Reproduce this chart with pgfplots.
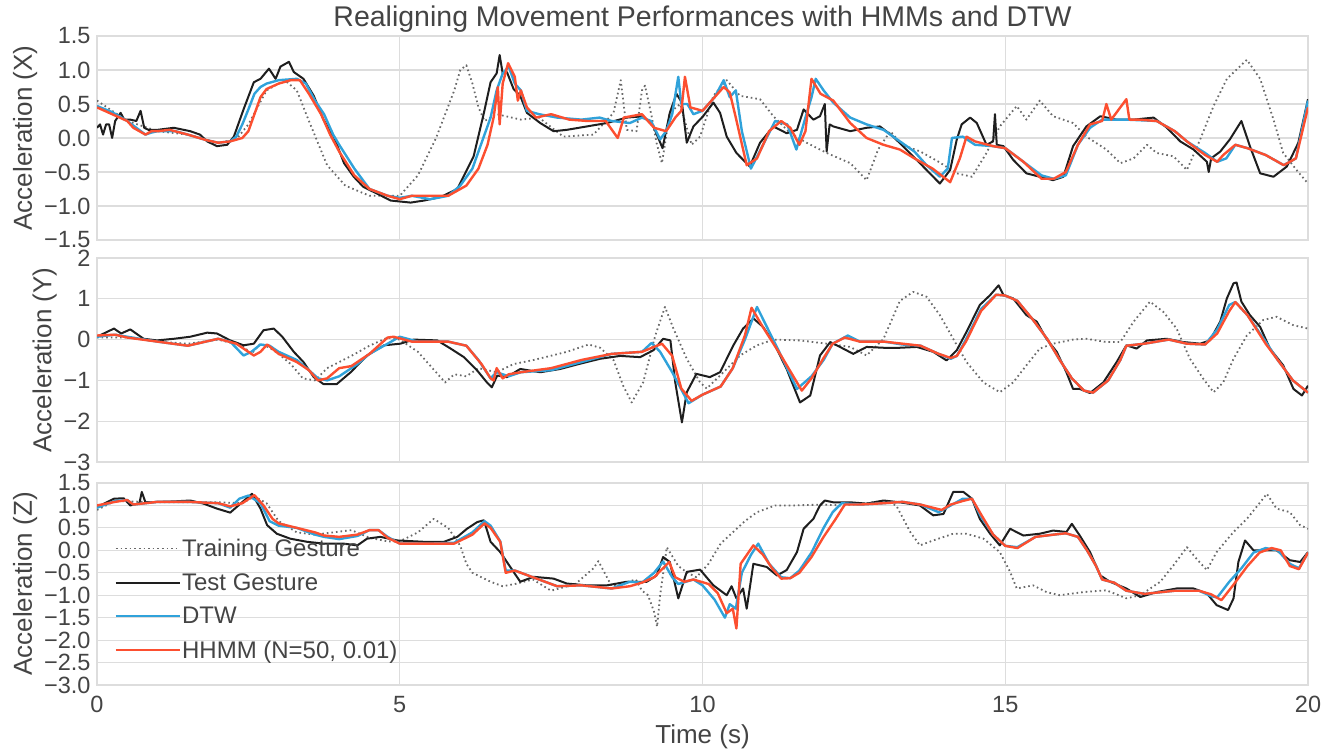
\documentclass[border=0pt]{standalone}
\usepackage{fontspec}
\setmainfont{Liberation Sans}
\usepackage{pgfplots}
\pgfplotsset{compat=1.18}

\definecolor{gridc}{RGB}{221,221,221}
\definecolor{txt}{RGB}{68,68,68}
\definecolor{dtw}{HTML}{30A2DA}
\definecolor{hhmm}{HTML}{FC4F30}
\definecolor{testc}{RGB}{30,30,30}
\definecolor{trainc}{RGB}{105,105,105}

\pgfplotsset{
  panel/.style={
    scale only axis, width=1211pt,
    xmin=0, xmax=20, xtick={0,5,10,15,20},
    grid=major, major grid style={gridc, line width=1.2pt},
    axis line style={gridc, line width=1.2pt},
    major tick length=0pt,
    tick label style={font=\fontsize{23.5}{25}\selectfont, text=txt},
    yticklabel style={xshift=-3pt},
    xticklabel style={yshift=-8pt},
    label style={font=\fontsize{26}{28}\selectfont, text=txt},
    every axis plot/.append style={line join=round},
  },
  trainst/.style={trainc, line width=1.8pt, dash pattern=on 1.6pt off 3pt},
  testst/.style={testc, line width=2pt},
  dtwst/.style={dtw, line width=2.4pt},
  hmmst/.style={hhmm, line width=2.4pt},
}

\begin{document}
\begin{tikzpicture}
\path[use as bounding box] (0,0) rectangle (1338pt,749pt);

% --- X ---
\begin{axis}[panel, at={(97pt,509pt)}, anchor=south west, height=204pt,
  ymin=-1.5, ymax=1.5, ytick={-1.5,-1,-0.5,0,0.5,1,1.5},
  yticklabels={−1.5,−1.0,−0.5,0.0,0.5,1.0,1.5},
  xticklabels={},
  ylabel={Acceleration (X)},
  title={Realigning Movement Performances with HMMs and DTW},
  title style={font=\fontsize{28.5}{30}\selectfont, text=txt, yshift=-6pt},
]
\addplot[trainst] coordinates {(0,0.55) (0.25,0.4) (0.5,0.25) (1,0.1) (1.5,0.05) (2,-0.07) (2.3,-0.02) (2.5,0.2) (2.8,0.7) (3.1,0.85) (3.3,0.7) (3.5,0.25) (3.8,-0.4) (4.1,-0.7) (4.5,-0.85) (5.0,-0.85) (5.3,-0.55) (5.6,0.0) (5.9,0.7) (6.0,1.0) (6.1,1.07) (6.2,0.8) (6.3,0.45) (6.4,0.25) (6.6,0.35) (7.0,0.27) (7.3,0.3) (7.7,0.02) (8.2,0.05) (8.53,0.37) (8.65,0.85) (8.69,0.55) (8.75,0.12) (8.91,0.1) (9.0,0.7) (9.05,0.77) (9.16,0.32) (9.24,-0.07) (9.33,-0.37) (9.46,0.37) (9.63,0.5) (9.82,-0.1) (9.96,0.02) (10.18,0.62) (10.4,0.85) (10.62,0.62) (10.95,0.57) (11.17,0.32) (11.45,0.07) (11.72,-0.07) (12.05,-0.22) (12.44,-0.37) (12.71,-0.62) (12.9,-0.17) (13.1,0.1) (13.3,-0.1) (13.6,-0.2) (13.9,-0.35) (14.2,-0.52) (14.45,-0.57) (14.69,-0.22) (14.91,0.17) (15.19,0.47) (15.35,0.27) (15.57,0.55) (15.79,0.32) (16.12,0.22) (16.34,0.02) (16.67,-0.17) (16.9,-0.37) (17.12,-0.3) (17.34,-0.1) (17.5,-0.22) (17.78,-0.27) (18.0,-0.47) (18.22,-0.02) (18.44,0.47) (18.66,0.87) (18.99,1.15) (19.21,0.87) (19.43,0.27) (19.59,-0.22) (19.81,-0.47) (20,-0.67)};
\addplot[testst] coordinates {(0,0.15) (0.05,0.2) (0.1,0.05) (0.15,0.2) (0.2,0.2) (0.25,0.0) (0.3,0.25) (0.39,0.37) (0.45,0.27) (0.55,0.27) (0.65,0.25) (0.72,0.4) (0.78,0.15) (0.85,0.12) (1.0,0.12) (1.27,0.15) (1.54,0.1) (1.7,0.05) (1.82,-0.05) (1.98,-0.12) (2.15,-0.1) (2.26,0.02) (2.42,0.42) (2.59,0.82) (2.7,0.87) (2.84,1.02) (2.95,0.87) (3.03,1.05) (3.17,1.12) (3.25,0.97) (3.41,0.87) (3.58,0.62) (3.74,0.27) (3.91,0.02) (4.08,-0.37) (4.24,-0.57) (4.4,-0.72) (4.63,-0.82) (4.85,-0.92) (5.18,-0.95) (5.4,-0.92) (5.67,-0.87) (5.95,-0.75) (6.22,-0.27) (6.39,0.37) (6.5,0.82) (6.6,0.95) (6.65,1.22) (6.7,0.95) (6.77,0.97) (6.88,0.72) (6.99,0.62) (7.1,0.37) (7.32,0.22) (7.54,0.1) (7.76,0.12) (8.09,0.17) (8.42,0.22) (8.75,0.3) (9.02,0.32) (9.19,0.17) (9.34,-0.15) (9.46,0.37) (9.57,0.65) (9.66,0.52) (9.74,-0.07) (9.85,0.17) (10.01,0.32) (10.18,0.52) (10.29,0.37) (10.4,0.02) (10.56,-0.22) (10.78,-0.42) (10.95,-0.07) (11.17,0.17) (11.39,0.07) (11.56,0.12) (11.67,0.42) (11.83,0.27) (11.94,0.32) (12.02,0.5) (12.05,-0.2) (12.1,0.2) (12.16,0.17) (12.44,0.1) (12.71,0.15) (12.93,0.17) (13.15,0.02) (13.4,-0.2) (13.59,-0.37) (13.92,-0.67) (14.09,-0.47) (14.2,-0.02) (14.28,0.2) (14.42,0.3) (14.53,0.22) (14.69,-0.1) (14.8,-0.05) (14.83,0.35) (14.86,-0.1) (14.97,-0.12) (15.13,-0.32) (15.35,-0.52) (15.57,-0.57) (15.79,-0.62) (15.96,-0.57) (16.12,-0.12) (16.34,0.17) (16.57,0.32) (16.84,0.27) (17.12,0.27) (17.45,0.3) (17.67,0.15) (17.89,-0.05) (18.11,-0.17) (18.33,-0.35) (18.36,-0.5) (18.4,-0.3) (18.55,-0.2) (18.71,-0.02) (18.9,0.25) (19.04,-0.12) (19.21,-0.52) (19.43,-0.57) (19.65,-0.42) (19.84,-0.07) (20,0.57)};
\addplot[dtwst] coordinates {(0,0.47) (0.25,0.38) (0.5,0.25) (0.65,0.15) (0.8,0.05) (0.9,0.08) (1.0,0.1) (1.3,0.1) (1.5,0.05) (1.8,-0.03) (2.0,-0.07) (2.2,-0.05) (2.3,0.02) (2.4,0.2) (2.5,0.42) (2.6,0.65) (2.7,0.75) (2.8,0.8) (3.0,0.85) (3.3,0.87) (3.45,0.8) (3.6,0.55) (3.75,0.35) (3.9,0.05) (4.0,-0.1) (4.25,-0.45) (4.5,-0.75) (4.8,-0.85) (5.0,-0.88) (5.2,-0.85) (5.5,-0.9) (5.8,-0.85) (6.0,-0.7) (6.2,-0.45) (6.4,0.05) (6.5,0.3) (6.6,0.7) (6.7,0.95) (6.8,1.05) (6.9,0.8) (7.0,0.7) (7.1,0.4) (7.3,0.35) (7.6,0.3) (8.0,0.27) (8.3,0.3) (8.5,0.25) (8.8,0.22) (9.0,0.3) (9.15,0.25) (9.3,-0.02) (9.4,0.1) (9.5,0.35) (9.6,0.9) (9.65,0.5) (9.75,0.5) (9.85,0.35) (10.0,0.4) (10.2,0.6) (10.35,0.85) (10.45,0.6) (10.55,0.7) (10.65,0.1) (10.8,-0.45) (11.0,-0.1) (11.2,0.25) (11.4,0.2) (11.55,-0.17) (11.7,0.3) (11.8,0.6) (11.87,0.87) (12.0,0.7) (12.16,0.52) (12.44,0.3) (12.71,0.2) (12.99,0.12) (13.26,-0.05) (13.5,-0.2) (13.7,-0.4) (13.92,-0.57) (14.05,-0.45) (14.12,0.0) (14.3,0.02) (14.5,-0.1) (14.8,-0.12) (15.0,-0.15) (15.3,-0.35) (15.6,-0.55) (15.8,-0.6) (16.0,-0.55) (16.2,-0.1) (16.4,0.15) (16.6,0.27) (17.0,0.27) (17.5,0.25) (17.8,0.1) (18.0,-0.05) (18.3,-0.22) (18.5,-0.35) (18.65,-0.3) (18.8,-0.1) (19.0,-0.15) (19.3,-0.25) (19.6,-0.4) (19.8,-0.3) (20,0.55)};
\addplot[hmmst] coordinates {(0,0.45) (0.25,0.35) (0.5,0.25) (0.6,0.15) (0.8,0.05) (0.9,0.1) (1.0,0.1) (1.2,0.12) (1.5,0.05) (1.8,-0.03) (2.0,-0.07) (2.2,-0.05) (2.4,0.0) (2.5,0.1) (2.6,0.35) (2.7,0.6) (2.8,0.72) (3.0,0.8) (3.2,0.85) (3.35,0.85) (3.5,0.65) (3.7,0.35) (3.85,0.05) (4.0,-0.2) (4.25,-0.55) (4.5,-0.75) (4.8,-0.85) (5.0,-0.9) (5.2,-0.85) (5.8,-0.85) (6.1,-0.7) (6.3,-0.45) (6.45,-0.1) (6.55,0.3) (6.62,0.75) (6.65,0.2) (6.7,0.8) (6.79,1.1) (6.9,0.9) (6.95,0.55) (7.0,0.7) (7.1,0.45) (7.25,0.3) (7.5,0.35) (7.8,0.27) (8.1,0.25) (8.4,0.25) (8.6,0.0) (8.7,0.3) (9.0,0.35) (9.2,0.15) (9.4,0.1) (9.55,0.3) (9.65,0.4) (9.71,0.9) (9.8,0.45) (10.0,0.4) (10.2,0.6) (10.35,0.75) (10.45,0.67) (10.55,0.3) (10.73,-0.4) (10.9,-0.3) (11.1,0.1) (11.3,0.25) (11.45,0.15) (11.6,-0.1) (11.7,0.1) (11.8,0.87) (11.95,0.65) (12.16,0.55) (12.44,0.22) (12.71,0.0) (12.99,-0.1) (13.26,-0.17) (13.5,-0.3) (13.8,-0.45) (14.09,-0.65) (14.25,-0.3) (14.36,0.02) (14.5,-0.05) (14.8,-0.12) (15.0,-0.15) (15.3,-0.35) (15.6,-0.6) (15.8,-0.6) (16.0,-0.5) (16.2,-0.1) (16.4,0.2) (16.6,0.25) (16.67,0.5) (16.75,0.27) (17.0,0.57) (17.05,0.27) (17.2,0.27) (17.5,0.25) (17.8,0.1) (18.0,-0.05) (18.3,-0.25) (18.5,-0.35) (18.6,-0.25) (18.8,-0.1) (19.0,-0.15) (19.3,-0.25) (19.6,-0.4) (19.8,-0.3) (20,0.45)};
\end{axis}

% --- Y ---
\begin{axis}[panel, at={(97pt,287pt)}, anchor=south west, height=204pt,
  ymin=-3, ymax=2, ytick={-3,-2,-1,0,1,2},
  yticklabels={−3,−2,−1,0,1,2},
  xticklabels={},
  ylabel={Acceleration (Y)},
]
\addplot[trainst] coordinates {(0,0.05) (0.5,0.05) (1,-0.05) (1.5,-0.1) (2,0.0) (2.4,-0.15) (2.55,-0.35) (2.7,-0.1) (2.85,-0.2) (3.0,-0.35) (3.2,-0.6) (3.4,-0.95) (3.6,-1.0) (3.8,-0.7) (4.2,-0.4) (4.5,-0.15) (4.8,0.05) (5.0,0.0) (5.3,-0.3) (5.6,-0.8) (5.75,-1.05) (5.9,-0.85) (6.1,-0.9) (6.3,-0.7) (6.6,-0.8) (6.88,-0.6) (7.21,-0.5) (7.76,-0.3) (8.12,-0.12) (8.31,-0.2) (8.53,-0.5) (8.69,-1.13) (8.83,-1.54) (9.02,-1.05) (9.22,0.1) (9.38,0.8) (9.52,0.27) (9.74,-0.47) (9.96,-1.05) (10.07,-1.2) (10.29,-0.88) (10.62,-0.39) (10.9,-0.14) (11.17,0.0) (11.61,-0.02) (12.05,-0.1) (12.44,-0.18) (12.71,-0.39) (12.99,0.02) (13.26,0.95) (13.48,1.17) (13.7,1.05) (13.92,0.6) (14.14,0.02) (14.36,-0.55) (14.64,-1.05) (14.91,-1.29) (15.13,-1.05) (15.35,-0.63) (15.57,-0.22) (15.79,-0.1) (16.12,0.0) (16.34,0.02) (16.67,-0.06) (16.9,-0.06) (17.12,0.44) (17.39,0.93) (17.61,0.68) (17.83,0.27) (18.05,-0.47) (18.27,-0.96) (18.44,-1.29) (18.6,-1.05) (18.77,-0.47) (18.99,0.1) (19.26,0.48) (19.48,0.56) (19.76,0.35) (20,0.27)};
\addplot[testst] coordinates {(0,0.07) (0.28,0.27) (0.4,0.15) (0.55,0.25) (0.77,0.02) (0.99,-0.02) (1.27,0.02) (1.54,0.07) (1.82,0.17) (1.98,0.15) (2.2,-0.02) (2.42,-0.14) (2.59,-0.1) (2.75,0.23) (2.92,0.27) (3.06,0.07) (3.25,-0.3) (3.41,-0.55) (3.58,-0.92) (3.74,-1.09) (3.96,-1.09) (4.19,-0.8) (4.46,-0.39) (4.74,-0.14) (5.01,-0.1) (5.23,0.0) (5.62,-0.02) (5.84,-0.22) (6.06,-0.43) (6.28,-0.76) (6.44,-1.05) (6.52,-1.17) (6.61,-0.88) (6.77,-0.92) (6.99,-0.72) (7.32,-0.8) (7.65,-0.72) (7.98,-0.59) (8.31,-0.47) (8.64,-0.4) (8.97,-0.43) (9.19,-0.26) (9.35,0.02) (9.47,-0.02) (9.55,-1.05) (9.66,-2.03) (9.74,-1.29) (9.9,-0.84) (10.12,-0.92) (10.29,-0.8) (10.4,-0.47) (10.51,-0.14) (10.67,0.27) (10.84,0.52) (11.0,0.31) (11.17,-0.06) (11.39,-0.72) (11.61,-1.54) (11.78,-1.37) (11.94,-0.39) (12.11,-0.06) (12.27,-0.18) (12.49,-0.35) (12.71,-0.18) (12.99,-0.2) (13.26,-0.2) (13.54,-0.18) (13.81,-0.3) (14.03,-0.51) (14.2,-0.26) (14.36,0.19) (14.58,0.85) (14.75,1.09) (14.89,1.33) (14.97,1.09) (15.13,1.01) (15.35,0.6) (15.52,0.44) (15.68,0.02) (15.85,-0.3) (16.01,-0.8) (16.12,-1.21) (16.23,-1.21) (16.4,-1.31) (16.62,-1.05) (16.84,-0.55) (17.0,-0.14) (17.17,-0.22) (17.34,-0.02) (17.67,0.02) (17.94,-0.06) (18.22,-0.1) (18.38,-0.02) (18.55,0.44) (18.66,1.01) (18.77,1.38) (18.82,1.4) (18.9,0.93) (19.04,0.6) (19.21,0.31) (19.37,-0.22) (19.59,-0.63) (19.76,-1.21) (19.9,-1.37) (20,-1.13)};
\addplot[dtwst] coordinates {(0,0.07) (0.3,0.12) (0.5,0.07) (1.0,-0.05) (1.5,-0.15) (2.0,0.02) (2.2,-0.05) (2.42,-0.39) (2.55,-0.3) (2.7,-0.12) (2.85,-0.15) (3.0,-0.3) (3.3,-0.5) (3.5,-0.75) (3.65,-0.95) (3.8,-1.0) (4.0,-0.9) (4.3,-0.6) (4.5,-0.35) (4.8,-0.1) (5.0,0.07) (5.3,-0.05) (5.8,-0.05) (6.1,-0.15) (6.3,-0.5) (6.5,-0.95) (6.6,-0.8) (6.8,-0.9) (7.0,-0.8) (7.5,-0.75) (8.0,-0.55) (8.5,-0.35) (9.0,-0.3) (9.16,-0.08) (9.3,-0.3) (9.5,-0.8) (9.77,-1.56) (10.0,-1.35) (10.3,-1.15) (10.5,-0.7) (10.7,0.0) (10.9,0.8) (11.1,0.2) (11.3,-0.4) (11.56,-1.21) (11.8,-0.9) (12.0,-0.5) (12.15,-0.1) (12.4,0.1) (12.6,-0.05) (13.0,-0.05) (13.3,-0.12) (13.6,-0.15) (13.9,-0.35) (14.1,-0.47) (14.2,-0.4) (14.35,0.0) (14.6,0.75) (14.85,1.1) (15.0,1.08) (15.2,0.95) (15.45,0.5) (15.7,0.0) (15.9,-0.5) (16.1,-0.95) (16.3,-1.25) (16.45,-1.3) (16.7,-1.0) (16.9,-0.5) (17.0,-0.15) (17.3,-0.1) (17.7,0.0) (18.0,-0.1) (18.3,-0.12) (18.5,0.25) (18.7,0.85) (18.8,0.92) (19.0,0.6) (19.3,-0.05) (19.5,-0.5) (19.75,-1.0) (20,-1.3)};
\addplot[hmmst] coordinates {(0,0.1) (0.3,0.12) (0.5,0.05) (1.0,-0.05) (1.5,-0.15) (2.0,0.02) (2.3,-0.1) (2.59,-0.39) (2.7,-0.3) (2.81,-0.12) (3.0,-0.35) (3.3,-0.55) (3.5,-0.75) (3.65,-1.0) (3.8,-0.95) (4.0,-0.7) (4.2,-0.65) (4.5,-0.35) (4.8,0.05) (4.9,0.07) (5.2,-0.05) (5.8,-0.05) (6.1,-0.15) (6.35,-0.6) (6.5,-0.95) (6.55,-1.0) (6.6,-0.7) (6.7,-0.95) (6.8,-0.85) (7.0,-0.8) (7.5,-0.7) (8.0,-0.5) (8.5,-0.35) (9.0,-0.3) (9.33,-0.1) (9.5,-0.4) (9.65,-1.2) (9.82,-1.5) (10.0,-1.35) (10.3,-1.15) (10.5,-0.7) (10.7,0.1) (10.81,0.78) (11.0,0.3) (11.3,-0.4) (11.64,-1.25) (11.8,-0.95) (12.0,-0.45) (12.15,-0.1) (12.35,0.05) (12.6,-0.05) (13.0,-0.05) (13.3,-0.1) (13.6,-0.15) (13.9,-0.35) (14.1,-0.45) (14.2,-0.4) (14.35,-0.05) (14.6,0.7) (14.85,1.1) (15.0,1.08) (15.2,0.95) (15.45,0.5) (15.7,0.0) (15.9,-0.5) (16.1,-0.95) (16.3,-1.25) (16.45,-1.3) (16.7,-1.0) (16.9,-0.5) (17.0,-0.15) (17.3,-0.1) (17.7,0.0) (18.0,-0.1) (18.3,-0.12) (18.5,0.15) (18.7,0.7) (18.8,0.92) (19.0,0.6) (19.3,-0.1) (19.5,-0.5) (19.75,-1.0) (20,-1.3)};
\end{axis}

% --- Z ---
\begin{axis}[panel, at={(97pt,64pt)}, anchor=south west, height=202pt,
  ymin=-3, ymax=1.5, ytick={-3,-2.5,-2,-1.5,-1,-0.5,0,0.5,1,1.5},
  yticklabels={−3.0,−2.5,−2.0,−1.5,−1.0,−0.5,0.0,0.5,1.0,1.5},
  xticklabels={0,5,10,15,20},
  ylabel={Acceleration (Z)}, xlabel={Time (s)},
  xlabel style={yshift=-5pt},
  legend style={draw=none, fill=none, at={(rel axis cs:0.012,0.738)}, anchor=north west,
    font=\fontsize{24}{26}\selectfont, text=txt, row sep=13.5pt,
    nodes={inner sep=1pt}},
  legend cell align=left,
  legend image code/.code={\draw[#1] (0pt,0pt) -- (50pt,0pt); \path (0pt,0pt) -- (64pt,0pt);},
]
\addplot[trainst] coordinates {(0,0.9) (0.3,1.1) (1,1.07) (2,1.07) (2.4,1.05) (2.6,1.2) (2.8,1.05) (3.0,0.65) (3.3,0.4) (3.6,0.35) (3.9,0.4) (4.2,0.45) (4.5,0.28) (4.8,0.2) (5.0,0.2) (5.3,0.4) (5.56,0.7) (5.8,0.5) (6.0,0.1) (6.1,-0.3) (6.2,-0.5) (6.5,-0.7) (6.7,-0.8) (6.9,-0.75) (7.2,-0.65) (7.5,-0.9) (7.9,-0.75) (8.2,-0.4) (8.28,-0.24) (8.5,-0.8) (8.9,-0.65) (9.0,-0.9) (9.1,-1.0) (9.2,-1.37) (9.25,-1.7) (9.3,-1.0) (9.41,0.07) (9.6,-0.35) (9.75,-0.5) (9.9,-0.6) (10.1,-0.3) (10.3,0.15) (10.5,0.4) (10.7,0.65) (10.9,0.85) (11.2,1.0) (11.5,1.0) (12.0,1.02) (12.3,1.0) (12.7,1.05) (13.0,1.1) (13.2,1.0) (13.43,0.41) (13.59,0.11) (13.81,0.22) (14.14,0.37) (14.36,0.37) (14.64,0.26) (14.91,-0.04) (15.08,-0.48) (15.19,-0.85) (15.46,-0.78) (15.68,-0.93) (15.9,-1.0) (16.29,-0.93) (16.67,-0.89) (17.0,-1.07) (17.23,-1.0) (17.56,-0.7) (17.78,-0.33) (18.0,0.07) (18.16,-0.19) (18.33,-0.44) (18.49,-0.04) (18.77,0.41) (18.99,0.7) (19.21,1.07) (19.32,1.26) (19.48,0.93) (19.7,0.85) (19.87,0.56) (20,0.48)};
\addlegendentry{Training Gesture}
\addplot[testst] coordinates {(0,0.96) (0.28,1.15) (0.44,1.16) (0.55,1.0) (0.7,1.05) (0.74,1.3) (0.8,1.07) (1.27,1.09) (1.54,1.11) (1.76,1.04) (1.98,0.93) (2.2,0.84) (2.37,1.04) (2.56,1.26) (2.7,0.93) (2.81,0.56) (2.97,0.37) (3.19,0.26) (3.47,0.19) (3.74,0.15) (4.07,0.15) (4.3,0.11) (4.46,0.26) (4.68,0.3) (4.96,0.22) (5.4,0.19) (5.73,0.19) (5.95,0.3) (6.11,0.48) (6.28,0.63) (6.39,0.67) (6.5,0.19) (6.66,-0.04) (6.77,-0.26) (6.99,-0.7) (7.21,-0.59) (7.54,-0.63) (7.76,-0.74) (8.09,-0.78) (8.42,-0.78) (8.75,-0.7) (9.08,-0.7) (9.24,-0.56) (9.35,-0.15) (9.46,-0.26) (9.6,-1.07) (9.74,-0.48) (9.96,-0.43) (10.18,-0.78) (10.4,-1.0) (10.48,-0.8) (10.56,-1.07) (10.67,-0.85) (10.73,-1.3) (10.84,-0.3) (11.06,-0.37) (11.23,-0.56) (11.39,-0.44) (11.56,-0.04) (11.67,0.48) (11.83,0.7) (11.94,1.0) (12.02,1.11) (12.16,1.07) (12.44,1.07) (12.71,1.04) (12.99,1.11) (13.26,1.07) (13.59,1.0) (13.81,0.78) (13.98,0.81) (14.14,1.3) (14.31,1.3) (14.45,1.15) (14.58,0.7) (14.75,0.37) (14.91,0.11) (15.08,0.48) (15.3,0.33) (15.57,0.37) (15.79,0.44) (16.01,0.41) (16.1,0.59) (16.23,0.33) (16.4,-0.04) (16.57,-0.56) (16.73,-0.7) (17.0,-0.85) (17.23,-1.04) (17.5,-0.93) (17.83,-0.85) (18.11,-0.85) (18.33,-0.96) (18.49,-1.22) (18.68,-1.33) (18.77,-1.07) (18.85,-0.26) (18.96,0.22) (19.1,0.0) (19.26,0.0) (19.48,0.0) (19.7,-0.22) (19.87,-0.26) (20,-0.04)};
\addlegendentry{Test Gesture}
\addplot[dtwst] coordinates {(0,0.95) (0.3,1.1) (0.5,1.12) (0.6,1.02) (0.8,1.05) (1.0,1.08) (1.5,1.08) (2.0,1.05) (2.2,0.95) (2.35,1.15) (2.5,1.22) (2.7,1.05) (2.85,0.65) (3.0,0.55) (3.3,0.5) (3.6,0.35) (3.75,0.3) (4.0,0.25) (4.3,0.32) (4.5,0.45) (4.65,0.45) (4.8,0.3) (5.0,0.15) (5.5,0.15) (5.9,0.17) (6.2,0.4) (6.4,0.65) (6.5,0.55) (6.66,0.2) (6.75,-0.45) (6.9,-0.45) (7.0,-0.5) (7.3,-0.65) (7.6,-0.8) (8.0,-0.78) (8.5,-0.85) (8.8,-0.7) (9.0,-0.72) (9.2,-0.5) (9.35,-0.25) (9.5,-0.6) (9.6,-0.75) (9.85,-0.65) (10.0,-0.78) (10.2,-1.1) (10.37,-1.5) (10.45,-1.2) (10.55,-1.3) (10.65,-0.5) (10.8,-0.1) (10.92,0.15) (11.1,-0.3) (11.3,-0.6) (11.45,-0.62) (11.6,-0.45) (11.8,-0.05) (12.0,0.5) (12.15,0.85) (12.3,1.05) (12.6,1.02) (13.0,1.05) (13.3,1.08) (13.6,1.02) (13.9,0.85) (14.1,1.0) (14.3,1.15) (14.45,1.15) (14.6,0.75) (14.8,0.35) (15.0,0.1) (15.2,0.07) (15.5,0.3) (15.8,0.35) (16.0,0.38) (16.2,0.3) (16.35,0.0) (16.5,-0.35) (16.6,-0.65) (16.8,-0.72) (17.0,-0.9) (17.3,-0.97) (17.8,-0.9) (18.2,-0.9) (18.4,-1.02) (18.5,-1.05) (18.7,-0.7) (18.9,-0.4) (19.1,-0.05) (19.3,0.05) (19.5,0.0) (19.7,-0.3) (19.85,-0.4) (20,-0.05)};
\addlegendentry{DTW}
\addplot[hmmst] coordinates {(0,1.0) (0.3,1.08) (0.5,1.12) (0.6,1.02) (0.8,1.05) (1.0,1.08) (1.5,1.08) (2.0,1.05) (2.2,0.98) (2.4,1.05) (2.6,1.23) (2.75,1.0) (2.9,0.7) (3.0,0.6) (3.3,0.5) (3.6,0.4) (3.75,0.33) (4.0,0.3) (4.3,0.35) (4.5,0.45) (4.65,0.45) (4.8,0.28) (5.0,0.15) (5.5,0.15) (5.9,0.15) (6.2,0.35) (6.4,0.6) (6.5,0.5) (6.66,0.19) (6.75,-0.5) (6.9,-0.45) (7.0,-0.5) (7.3,-0.65) (7.6,-0.8) (8.0,-0.78) (8.5,-0.85) (8.8,-0.8) (9.0,-0.72) (9.2,-0.6) (9.45,-0.26) (9.55,-0.6) (9.7,-0.7) (9.85,-0.65) (10.1,-0.75) (10.25,-0.95) (10.4,-1.4) (10.5,-1.3) (10.56,-1.74) (10.63,-0.3) (10.84,0.11) (11.0,-0.1) (11.15,-0.4) (11.3,-0.63) (11.45,-0.62) (11.6,-0.5) (11.8,-0.15) (12.0,0.3) (12.2,0.7) (12.35,1.02) (12.6,1.02) (13.0,1.05) (13.3,1.08) (13.6,1.02) (13.8,0.95) (13.95,0.9) (14.1,1.02) (14.3,1.1) (14.45,1.15) (14.6,0.8) (14.8,0.35) (15.0,0.1) (15.2,0.05) (15.5,0.3) (15.8,0.35) (16.0,0.38) (16.2,0.3) (16.35,0.0) (16.5,-0.35) (16.6,-0.65) (16.8,-0.72) (17.0,-0.9) (17.3,-0.97) (17.8,-0.9) (18.2,-0.9) (18.4,-0.98) (18.57,-1.11) (18.75,-0.8) (19.0,-0.35) (19.2,-0.05) (19.4,0.05) (19.55,0.0) (19.7,-0.35) (19.85,-0.42) (20,-0.05)};
\addlegendentry{HHMM (N=50, 0.01)}
\end{axis}
\end{tikzpicture}
\end{document}
